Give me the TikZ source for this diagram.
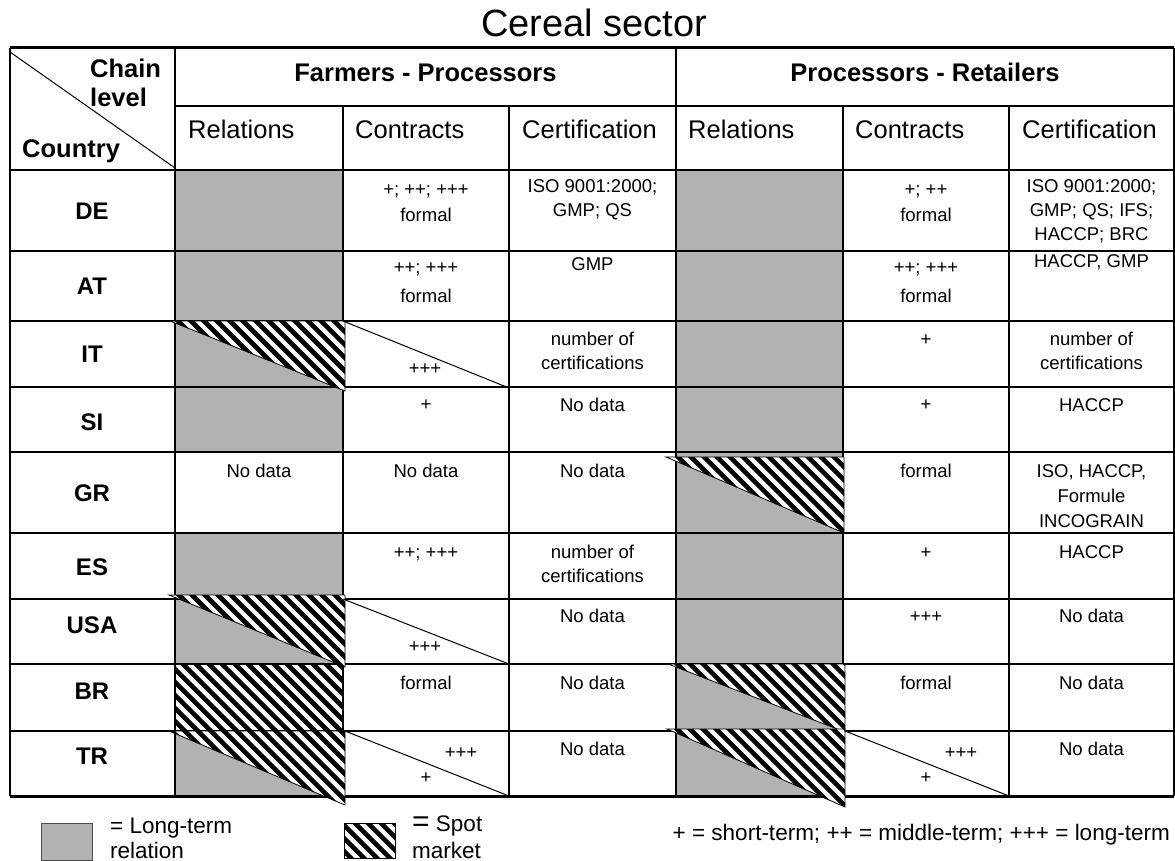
\documentclass[tikz,border=0pt]{standalone}
\usepackage{fontspec}
\setmainfont{Liberation Sans}
\newcommand{\lines}[1]{\begin{tabular}[t]{@{}c@{}}#1\end{tabular}}
% hatched region: white ground, diagonal stripes, thin outline
\newcommand{\hatchshape}[1]{%
  \fill[white] #1;
  \begin{scope}
    \clip #1;
    \foreach \k in {-70,...,95}{\draw[line width=4.6pt] (13*\k,0) -- ++(880,880);}
  \end{scope}
  \draw[line width=0.8pt] #1;}
\begin{document}
\begin{tikzpicture}[x=1pt,y=-1pt,
  rule/.style={line width=1.3pt},
  heavyrule/.style={line width=3pt},
  longterm/.style={fill=black!30},
  title/.style={font=\fontsize{38}{40}\selectfont, anchor=base, inner sep=0pt},
  grouphead/.style={font=\fontsize{25.5}{28}\selectfont\bfseries, anchor=base, inner sep=0pt},
  subhead/.style={font=\fontsize{25.5}{28}\selectfont, anchor=base west, inner sep=0pt},
  country/.style={font=\fontsize{24}{26}\selectfont\bfseries, anchor=base, inner sep=0pt},
  celltxt/.style={font=\fontsize{18.5}{24}\selectfont, anchor=base, inner sep=0pt},
  legendtxt/.style={font=\fontsize{22.5}{25}\selectfont, anchor=base west, inner sep=0pt},
]
\useasboundingbox (0,0) rectangle (1175,861);

% ---------- long-term relation cells ----------
\foreach \t/\b in {170/251,251/321,321/387,387/452,533/599,599/664,731/796}
  \fill[longterm] (175,\t) rectangle (343,\b);
\foreach \t/\b in {170/251,251/321,321/387,387/452,452/533,533/599,599/664,664/731,731/796}
  \fill[longterm] (676,\t) rectangle (843,\b);

% spot market only
\hatchshape{(175,664) rectangle (343,731)}

% ---------- grid ----------
\draw[heavyrule] (10,48) -- (1174,48);
\draw[heavyrule] (10,796) -- (1174,796);
\draw[rule] (175,106) -- (1174,106);
\foreach \y in {170,251,321,387,452,533,599,664,731}
  \draw[rule] (10,\y) -- (1174,\y);
\foreach \x in {10,175,676,1174}
  \draw[rule] (\x,48) -- (\x,796);
\foreach \x in {343,509,843,1009}
  \draw[rule] (\x,106) -- (\x,796);
\draw[line width=1pt] (10,52) -- (175,168);

% ---------- mixed relations (long-term and spot) ----------
\hatchshape{(170,321) -- (345,321) -- (345,391) -- cycle}
\hatchshape{(169,595) -- (345,595) -- (345,667) -- cycle}
\hatchshape{(169,731) -- (345,731) -- (345,805) -- cycle}
\hatchshape{(666,457) -- (844,457) -- (844,533) -- cycle}
\hatchshape{(668,664) -- (845,664) -- (845,732) -- cycle}
\hatchshape{(667,729) -- (845,729) -- (845,807) -- cycle}

% split contract cells
\draw[line width=1pt] (343,321) -- (509,388);
\draw[line width=1pt] (343,599) -- (509,664);
\draw[line width=1pt] (345,731) -- (509,796);
\draw[line width=1pt] (845,731) -- (1009,796);

% ---------- headings ----------
\node[title] (ttl) at (594,37) {Cereal sector};
\node[grouphead, anchor=base west] (hchain) at (90,78) {Chain};
\node[grouphead, anchor=base west] (hlevel) at (90,107) {level};
\node[grouphead, anchor=base west] (hcountry) at (22,158) {Country};
\node[grouphead] (hfp) at (425.5,82) {Farmers - Processors};
\node[grouphead] (hpr) at (925,82) {Processors - Retailers};
\node[subhead] (sr1) at (188,139) {Relations};
\node[subhead] (sc1) at (355,139) {Contracts};
\node[subhead] (se1) at (522,139) {Certification};
\node[subhead] (sr2) at (688,139) {Relations};
\node[subhead] (sc2) at (855,139) {Contracts};
\node[subhead] (se2) at (1022,139) {Certification};

% ---------- countries ----------
\node[country] (cde)  at (92,219) {DE};
\node[country] (cat)  at (92,294) {AT};
\node[country] (cit)  at (92,362) {IT};
\node[country] (csi)  at (92,430) {SI};
\node[country] (cgr)  at (92,501) {GR};
\node[country] (ces)  at (92,575) {ES};
\node[country] (cusa) at (92,633) {USA};
\node[country] (cbr)  at (92,699) {BR};
\node[country] (ctr)  at (92,764) {TR};

% ---------- cell entries ----------
% DE
\node[celltxt] (de2) at (426,196) {\lines{+; ++; +++\\[2pt]formal}};
\node[celltxt] (de3) at (592.5,193) {\lines{ISO 9001:2000;\\GMP; QS}};
\node[celltxt] (de5) at (926,196) {\lines{+; ++\\[2pt]formal}};
\node[celltxt] (de6) at (1091.5,193) {\lines{ISO 9001:2000;\\GMP; QS; IFS;\\HACCP; BRC}};
% AT
\node[celltxt] (at2) at (426,273) {\lines{++; +++\\[5pt]formal}};
\node[celltxt] (at3) at (592.5,270) {GMP};
\node[celltxt] (at5) at (926,273) {\lines{++; +++\\[5pt]formal}};
\node[celltxt] (at6) at (1091.5,267) {HACCP, GMP};
% IT
\node[celltxt] (it2) at (425,374) {+++};
\node[celltxt] (it3) at (592.5,345) {\lines{number of\\certifications}};
\node[celltxt] (it5) at (926,345) {+};
\node[celltxt] (it6) at (1091.5,345) {\lines{number of\\certifications}};
% SI
\node[celltxt] (si2) at (426,410) {+};
\node[celltxt] (si3) at (592.5,411) {No data};
\node[celltxt] (si5) at (926,410) {+};
\node[celltxt] (si6) at (1091.5,411) {HACCP};
% GR
\node[celltxt] (gr1) at (259,477) {No data};
\node[celltxt] (gr2) at (426,477) {No data};
\node[celltxt] (gr3) at (592.5,477) {No data};
\node[celltxt] (gr5) at (926,477) {formal};
\node[celltxt] (gr6) at (1091.5,477) {\lines{ISO, HACCP,\\[1pt]Formule\\[1pt]INCOGRAIN}};
% ES
\node[celltxt] (es2) at (426,558) {++; +++};
\node[celltxt] (es3) at (592.5,558) {\lines{number of\\certifications}};
\node[celltxt] (es5) at (926,558) {+};
\node[celltxt] (es6) at (1091.5,558) {HACCP};
% USA
\node[celltxt] (us2) at (425,652) {+++};
\node[celltxt] (us3) at (592.5,622) {No data};
\node[celltxt] (us5) at (926,622) {+++};
\node[celltxt] (us6) at (1091.5,622) {No data};
% BR
\node[celltxt] (br2) at (426,689) {formal};
\node[celltxt] (br3) at (592.5,689) {No data};
\node[celltxt] (br5) at (926,689) {formal};
\node[celltxt] (br6) at (1091.5,689) {No data};
% TR
\node[celltxt] (tr2a) at (461,758) {+++};
\node[celltxt] (tr2b) at (426,783) {+};
\node[celltxt] (tr3) at (592.5,755) {No data};
\node[celltxt] (tr5a) at (961,758) {+++};
\node[celltxt] (tr5b) at (926,783) {+};
\node[celltxt] (tr6) at (1091.5,755) {No data};

% ---------- legend ----------
\fill[longterm, draw=black!70, line width=0.8pt] (41,823) rectangle (92,860);
\node[legendtxt] (lglt) at (110,833) {= Long-term};
\node[legendtxt] (lglr) at (110,858) {relation};
\hatchshape{(344,823) rectangle (395,858)}
\node[legendtxt] (lgsp) at (412,831) {{\fontsize{30}{30}\selectfont =} Spot};
\node[legendtxt] (lgsm) at (412,858) {market};
\node[legendtxt, anchor=base east] (lgterm) at (1170,840) {+ = short-term; ++ = middle-term; +++ = long-term};
\end{tikzpicture}
\end{document}
